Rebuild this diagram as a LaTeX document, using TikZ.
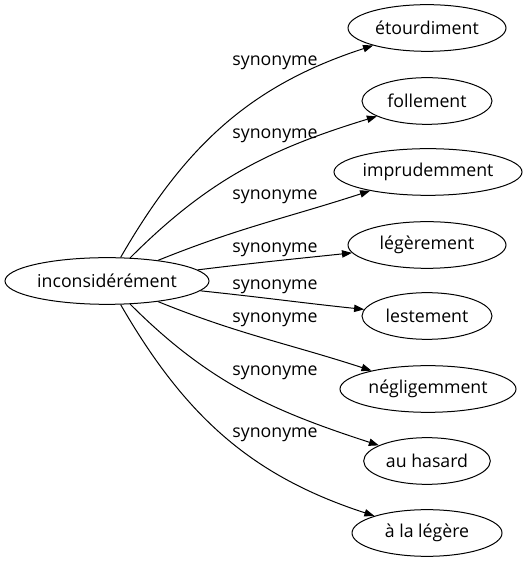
\documentclass[tikz,border=0pt]{standalone}
\usepackage{fontspec}
\setsansfont{Open Sans}
\usetikzlibrary{arrows.meta,shapes.geometric}

\begin{document}
\begin{tikzpicture}[
  x=0.75pt, y=0.75pt,
  font=\sffamily\fontsize{13.3}{16}\selectfont,
  ell/.style={draw, ellipse, inner sep=0pt, minimum height=35pt, line width=0.75pt},
  word/.style={ell, minimum width=#1},
  >={Triangle[length=7.5pt,width=5.5pt]},
  arrline/.style={->, line width=0.75pt},
  syn/.style={inner sep=1pt},
]
\useasboundingbox (0,0) rectangle (525,563);

% ============ Source word (left) ============
\node[word=153pt] (incons) at (107,282) {inconsidérément};

% ============ Synonyms (right column) ============
\node[word=118.5pt] (etourd) at (427,535) {étourdiment};
\node[word=97.5pt]  (follem) at (427,462) {follement};
\node[word=141pt]   (imprud) at (428,391) {imprudemment};
\node[word=118.5pt] (legere) at (427,318) {légèrement};
\node[word=97.5pt]  (lestem) at (427,247) {lestement};
\node[word=132pt]   (neglig) at (428,174) {négligemment};
\node[word=95pt]    (hasard) at (427,102) {au hasard};
\node[word=112.5pt] (alaleg) at (427,30)  {à la légère};

% ============ Edge labels ============
\node[syn] (syn1) at (275,500) {synonyme};
\node[syn] (syn2) at (275,427) {synonyme};
\node[syn] (syn3) at (275,366) {synonyme};
\node[syn] (syn4) at (275,313) {synonyme};
\node[syn] (syn5) at (275,276) {synonyme};
\node[syn] (syn6) at (275,243) {synonyme};
\node[syn] (syn7) at (275,190) {synonyme};
\node[syn] (syn8) at (275,128) {synonyme};

% ===================== ARROWS =====================
\draw[arrline] (incons) to[out=60,in=198]  (etourd);
\draw[arrline] (incons) to[out=45,in=197]  (follem);
\draw[arrline] (incons) to[out=22,in=198]  (imprud);
\draw[arrline] (incons) to[out=7,in=186]   (legere);
\draw[arrline] (incons) to[out=-6,in=174]  (lestem);
\draw[arrline] (incons) to[out=-22,in=162] (neglig);
\draw[arrline] (incons) to[out=-45,in=162] (hasard);
\draw[arrline] (incons) to[out=-60,in=162] (alaleg);

\end{tikzpicture}
\end{document}
